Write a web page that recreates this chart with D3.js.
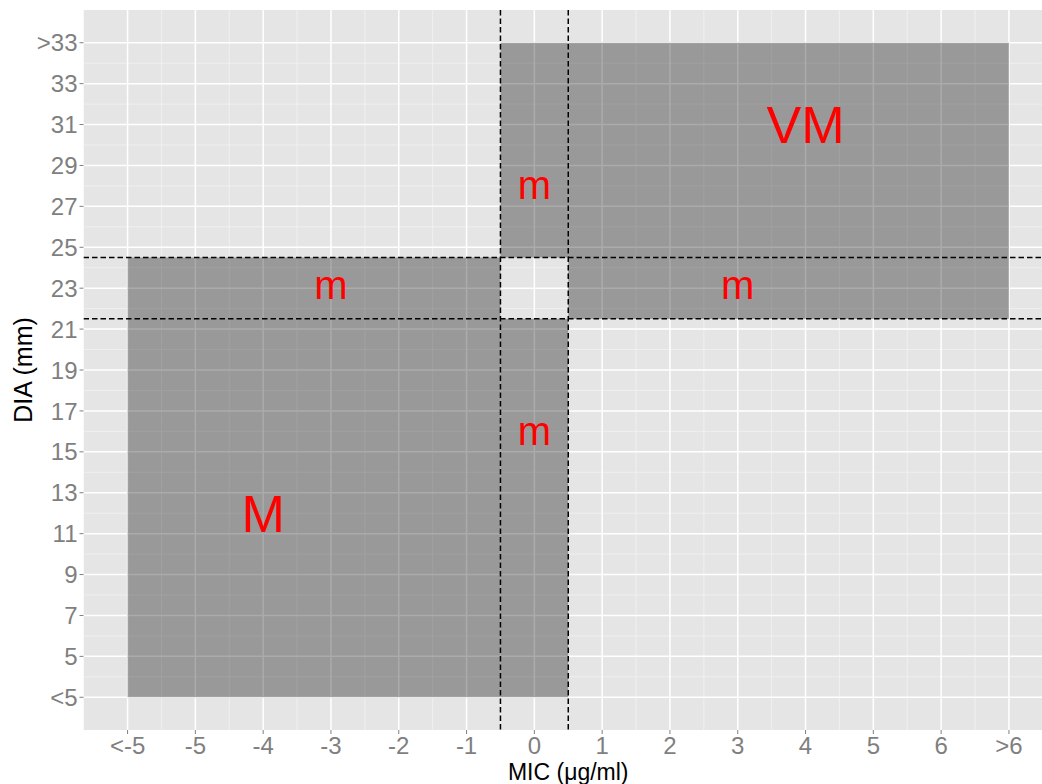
<!DOCTYPE html>
<html>
<head>
<meta charset="utf-8">
<script src="https://cdn.jsdelivr.net/npm/d3@7/dist/d3.min.js"></script>
<style>
  html, body { margin: 0; padding: 0; background: #fff; }
  svg { display: block; font-family: "Liberation Sans", Arial, sans-serif; }
</style>
</head>
<body>
<svg id="chart" width="1042" height="784"></svg>
<script>
// MIC categories (x) and their positions on the numeric axis
const micLabels = ["<-5", "-5", "-4", "-3", "-2", "-1", "0", "1", "2", "3", "4", "5", "6", ">6"];
const micPos    = [-6, -5, -4, -3, -2, -1, 0, 1, 2, 3, 4, 5, 6, 7];

// DIA categories (y) and their positions
const diaLabels = ["<5", "5", "7", "9", "11", "13", "15", "17", "19", "21", "23", "25", "27", "29", "31", "33", ">33"];
const diaPos    = [3, 5, 7, 9, 11, 13, 15, 17, 19, 21, 23, 25, 27, 29, 31, 33, 35];

// Breakpoints (dashed lines)
const micBreaks = [-0.5, 0.5];
const diaBreaks = [21.5, 24.5];

// Error zones in axis units
const zoneXmin = [-6,   -6,   -0.5, 0.5, -0.5, 0.5];
const zoneXmax = [-0.5, -0.5, 0.5,  7,   0.5,  7];
const zoneYmin = [3,    21.5, 3,    24.5, 24.5, 21.5];
const zoneYmax = [21.5, 24.5, 21.5, 35,   35,   24.5];

// Zone annotations
const noteText = ["M", "m", "m", "VM", "m", "m"];
const noteX    = [-4, -3, 0, 4, 0, 3];
const noteY    = [12, 23, 15.9, 31, 27.9, 23];
const noteBig  = [true, false, false, true, false, false];

const svg = d3.select("#chart");
const panel = { left: 83.5, right: 1053, top: 10, bottom: 730 };

const xExp = 0.05 * (7 - (-6));
const yExp = 0.05 * (35 - 3);
const x = d3.scaleLinear().domain([-6 - xExp, 7 + xExp]).range([panel.left, panel.right]);
const y = d3.scaleLinear().domain([3 - yExp, 35 + yExp]).range([panel.bottom, panel.top]);

svg.append("defs").append("clipPath").attr("id", "panelClip")
  .append("rect")
  .attr("x", panel.left).attr("y", panel.top)
  .attr("width", panel.right - panel.left).attr("height", panel.bottom - panel.top);

const g = svg.append("g").attr("clip-path", "url(#panelClip)");

// panel background
g.append("rect")
  .attr("x", panel.left).attr("y", panel.top)
  .attr("width", panel.right - panel.left).attr("height", panel.bottom - panel.top)
  .attr("fill", "#E5E5E5");

// minor grid
const minorX = micPos.slice(0, -1).map(v => v + 0.5);
const minorY = diaPos.slice(0, -1).map(v => v + 1);
g.selectAll(".minx").data(minorX).join("line")
  .attr("x1", d => x(d)).attr("x2", d => x(d))
  .attr("y1", panel.top).attr("y2", panel.bottom)
  .attr("stroke", "#F2F2F2").attr("stroke-width", 0.8);
g.selectAll(".miny").data(minorY).join("line")
  .attr("y1", d => y(d)).attr("y2", d => y(d))
  .attr("x1", panel.left).attr("x2", panel.right)
  .attr("stroke", "#F2F2F2").attr("stroke-width", 0.8);

// major grid
g.selectAll(".majx").data(micPos).join("line")
  .attr("x1", d => x(d)).attr("x2", d => x(d))
  .attr("y1", panel.top).attr("y2", panel.bottom)
  .attr("stroke", "#FFFFFF").attr("stroke-width", 1.5);
g.selectAll(".majy").data(diaPos).join("line")
  .attr("y1", d => y(d)).attr("y2", d => y(d))
  .attr("x1", panel.left).attr("x2", panel.right)
  .attr("stroke", "#FFFFFF").attr("stroke-width", 1.5);

// zones
g.selectAll(".zone").data(d3.range(zoneXmin.length)).join("rect")
  .attr("x", i => x(zoneXmin[i]))
  .attr("width", i => x(zoneXmax[i]) - x(zoneXmin[i]))
  .attr("y", i => y(zoneYmax[i]))
  .attr("height", i => y(zoneYmin[i]) - y(zoneYmax[i]))
  .attr("fill", "#000").attr("fill-opacity", 0.33);

// dashed breakpoint lines
g.selectAll(".vb").data(micBreaks).join("line")
  .attr("x1", d => x(d)).attr("x2", d => x(d))
  .attr("y1", panel.top).attr("y2", panel.bottom)
  .attr("stroke", "#000").attr("stroke-width", 1.5).attr("stroke-dasharray", "5.5,3");
g.selectAll(".hb").data(diaBreaks).join("line")
  .attr("y1", d => y(d)).attr("y2", d => y(d))
  .attr("x1", panel.left).attr("x2", panel.right)
  .attr("stroke", "#000").attr("stroke-width", 1.5).attr("stroke-dasharray", "5.5,3");

// zone labels, vertically centred on their ink
g.selectAll(".note").data(d3.range(noteText.length)).join("text")
  .attr("x", i => x(noteX[i]))
  .attr("y", i => y(noteY[i]) + (noteBig[i] ? 0.358 * 52 : 0.28 * 40))
  .attr("text-anchor", "middle")
  .attr("font-size", i => noteBig[i] ? 52 : 40)
  .attr("fill", "#FF0000")
  .text(i => noteText[i]);

// x axis
const xAxis = svg.append("g");
xAxis.selectAll("line").data(micPos).join("line")
  .attr("x1", d => x(d)).attr("x2", d => x(d))
  .attr("y1", panel.bottom).attr("y2", panel.bottom + 4)
  .attr("stroke", "#7F7F7F").attr("stroke-width", 1);
xAxis.selectAll("text").data(micPos).join("text")
  .attr("x", d => x(d)).attr("y", panel.bottom + 24)
  .attr("text-anchor", "middle").attr("font-size", 24).attr("fill", "#7F7F7F")
  .text((d, i) => micLabels[i]);

// y axis
const yAxis = svg.append("g");
yAxis.selectAll("line").data(diaPos).join("line")
  .attr("x1", panel.left - 4).attr("x2", panel.left)
  .attr("y1", d => y(d)).attr("y2", d => y(d))
  .attr("stroke", "#7F7F7F").attr("stroke-width", 1);
yAxis.selectAll("text").data(diaPos).join("text")
  .attr("x", panel.left - 6).attr("y", d => y(d) + 8.6)
  .attr("text-anchor", "end").attr("font-size", 24).attr("fill", "#7F7F7F")
  .text((d, i) => diaLabels[i]);

// axis titles
svg.append("text")
  .attr("x", (panel.left + panel.right) / 2).attr("y", 780)
  .attr("text-anchor", "middle").attr("font-size", 23).attr("fill", "#000")
  .text("MIC (μg/ml)");
svg.append("text")
  .attr("transform", `translate(${32},${(panel.top + panel.bottom) / 2}) rotate(-90)`)
  .attr("text-anchor", "middle").attr("font-size", 25).attr("fill", "#000")
  .text("DIA (mm)");
</script>
</body>
</html>
